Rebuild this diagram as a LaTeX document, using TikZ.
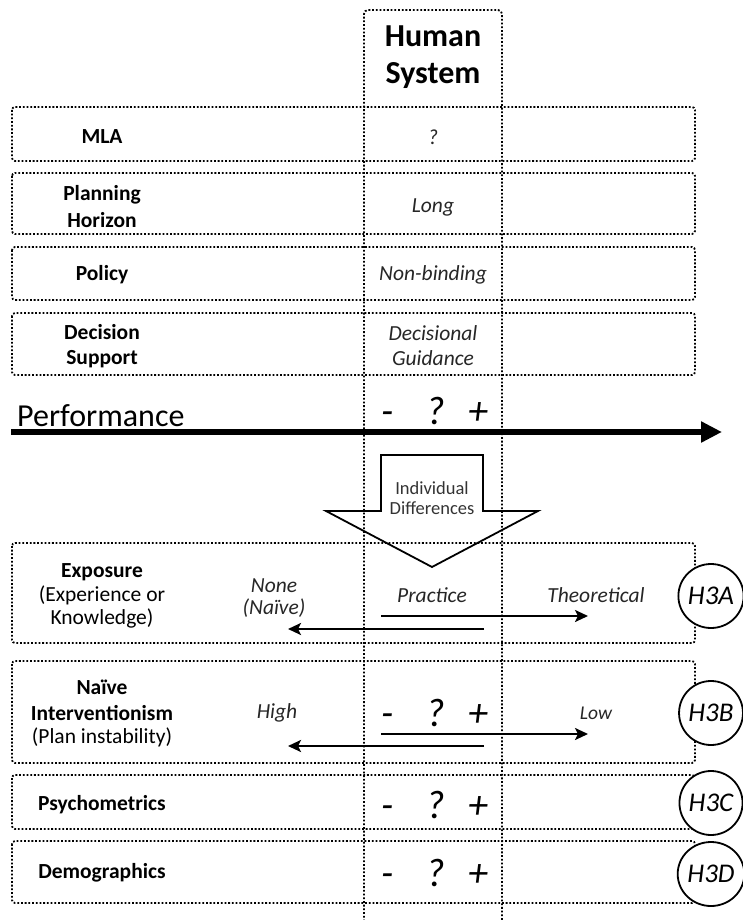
\documentclass[tikz,border=0pt]{standalone}
\usepackage{fontspec}
\setmainfont{Carlito}
\usetikzlibrary{arrows.meta,shapes.geometric}

\newcommand{\fsz}[2]{\fontsize{#1}{#2}\selectfont}

\tikzset{
  dotline/.style={dash pattern=on 1.8pt off 1.9pt, line width=1.8pt},
  rowbox/.style={dotline, rounded corners=3pt},
  label/.style={inner sep=0pt, align=center, font=\fsz{21.5}{23}\bfseries},
  sublabel/.style={inner sep=0pt, align=center, font=\fsz{21.5}{23}},
  val/.style={inner sep=0pt, align=center, font=\fsz{21.5}{25}\itshape, text=black!85},
  sign/.style={inner sep=0pt, anchor=base, font=\fsz{40}{44}\itshape},
  hyp/.style={draw, ellipse, fill=white, line width=1.8pt, minimum width=60pt,
              minimum height=64pt, inner sep=0pt, font=\fsz{27}{30}\itshape},
  thin arrow/.style={line width=2.4pt, -{Stealth[length=13pt,width=12pt,inset=3pt]}},
}

\begin{document}
\begin{tikzpicture}[x=1pt,y=-1pt]
\useasboundingbox (0,0) rectangle (742,920);

% row frames
\draw[rowbox] (12,107) rectangle (695,161);
\draw[rowbox] (12,173) rectangle (695,234);
\draw[rowbox] (12,247) rectangle (695,300);
\draw[rowbox] (12,313) rectangle (695,375);
\draw[rowbox] (12,543) rectangle (695,643);
\draw[rowbox] (12,661) rectangle (695,763);
\draw[rowbox] (12,775) rectangle (695,829);
\draw[rowbox] (12,841) rectangle (695,903);

% Human System column
\draw[dotline, rounded corners=4pt] (364,925) -- (364,10) -- (502,10) -- (502,925);
\node[inner sep=0pt, align=center, font=\fsz{32}{37}\bfseries] (hs) at (433,57) {Human\\System};

% upper rows
\node[label] (mla) at (102,137) {MLA};
\node[val] (mlav) at (433,137) {?};
\node[label, font=\fsz{21.5}{27}\bfseries] (ph) at (102,207) {Planning\\Horizon};
\node[val] (phv) at (433,207) {Long};
\node[label] (pol) at (102,275) {Policy};
\node[val] (polv) at (433,275) {Non-binding};
\node[label, font=\fsz{21.5}{25}\bfseries] (ds) at (102,346) {Decision\\Support};
\node[val, font=\fsz{21.5}{25}\itshape] (dsv) at (433,346) {Decisional\\Guidance};

% performance axis
\node[inner sep=0pt, anchor=base west, font=\fsz{32}{36}] (perf) at (17,426) {Performance};
\node[sign] (pm) at (388,424) {-};
\node[sign] (pq) at (436,424) {?};
\node[sign] (pp) at (478,424) {+};
\coordinate (axL) at (11,432);
\coordinate (axR) at (722,432);
\draw[line width=6pt, -{Triangle[length=21pt,width=20pt]}] (axL) -- (axR);

% individual differences block arrow
\draw[line width=1.8pt, line join=miter]
  (381,455) -- (483,455) -- (483,511) -- (538,511) -- (432,567)
  -- (326,511) -- (381,511) -- cycle;
\node[inner sep=0pt, align=center, font=\fsz{18.5}{20}, text=black!80] (idiff) at (432,498) {Individual\\Differences};

% exposure row
\node[label] (exp) at (102,572) {Exposure};
\node[sublabel] (expsub) at (102,607) {(Experience or\\Knowledge)};
\node[val, font=\fsz{21.5}{22}\itshape] (none) at (274,598) {None\\(Naïve)};
\node[val] (prac) at (432,595) {Practice};
\node[val] (theo) at (596,595) {Theoretical};
\coordinate (e1s) at (381,616);
\coordinate (e1t) at (588,616);
\coordinate (e2s) at (484,629);
\coordinate (e2t) at (288,629);
\draw[thin arrow] (e1s) -- (e1t);
\draw[thin arrow] (e2s) -- (e2t);
\node[hyp] (h3a) at (711,596) {H3A};

% naive interventionism row
\node[label, font=\fsz{21.5}{26}\bfseries] (ni) at (102,700) {Naïve\\Interventionism};
\node[sublabel] (nisub) at (102,737) {(Plan instability)};
\node[val] (high) at (277,713) {High};
\node[sign] (nm) at (388,726) {-};
\node[sign] (nq) at (436,726) {?};
\node[sign] (np) at (478,726) {+};
\node[val, font=\fsz{19.5}{22}\itshape] (low) at (596,713) {Low};
\coordinate (n1s) at (381,734);
\coordinate (n1t) at (588,734);
\coordinate (n2s) at (484,746);
\coordinate (n2t) at (288,746);
\draw[thin arrow] (n1s) -- (n1t);
\draw[thin arrow] (n2s) -- (n2t);
\node[hyp] (h3b) at (711,713) {H3B};

% psychometrics row
\node[label] (psy) at (102,805) {Psychometrics};
\node[sign] (sm) at (388,818) {-};
\node[sign] (sq) at (436,818) {?};
\node[sign] (sp) at (478,818) {+};
\node[hyp] (h3c) at (711,803) {H3C};

% demographics row
\node[label] (dem) at (102,873) {Demographics};
\node[sign] (dm) at (388,886) {-};
\node[sign] (dq) at (436,886) {?};
\node[sign] (dp) at (478,886) {+};
\node[hyp] (h3d) at (711,874) {H3D};
\end{tikzpicture}
\end{document}
